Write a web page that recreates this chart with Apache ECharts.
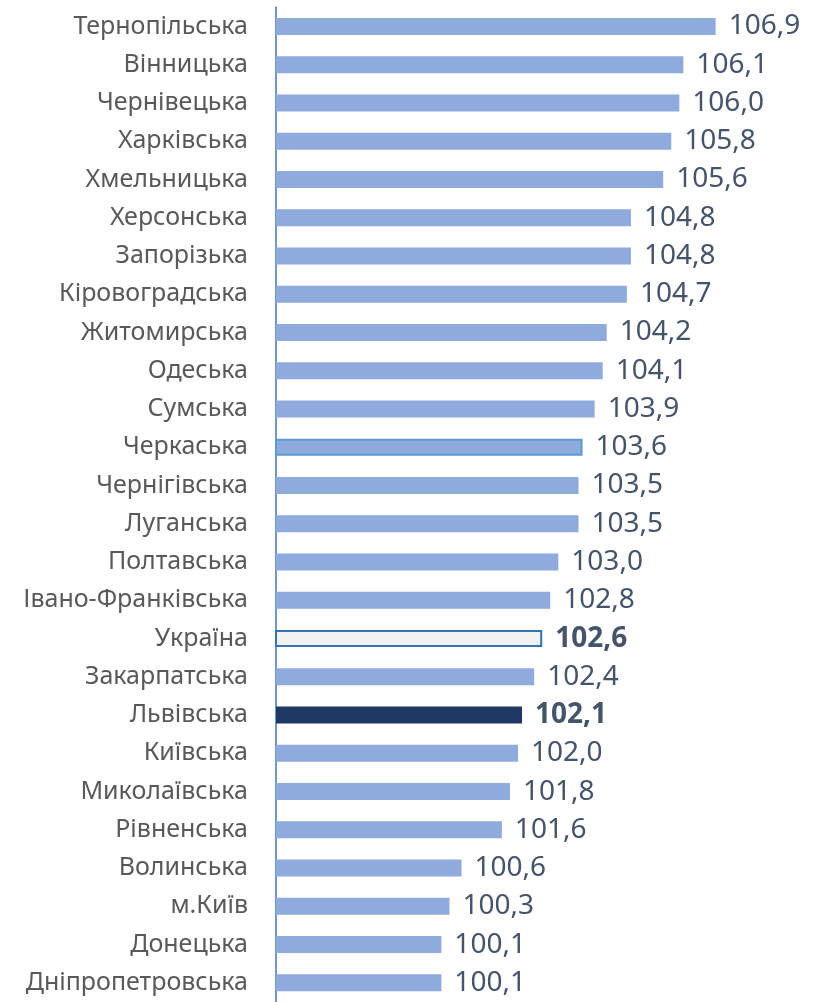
<!DOCTYPE html>
<html>
<head>
<meta charset="utf-8">
<script src="https://cdn.jsdelivr.net/npm/echarts@6/dist/echarts.min.js"></script>
<style>html,body{margin:0;padding:0;background:#fff}#c{width:818px;height:1002px}</style>
</head>
<body>
<div id="c"></div>
<script>
const categories = ["Тернопільська","Вінницька","Чернівецька","Харківська","Хмельницька","Херсонська","Запорізька","Кіровоградська","Житомирська","Одеська","Сумська","Черкаська","Чернігівська","Луганська","Полтавська","Івано-Франківська","Україна","Закарпатська","Львівська","Київська","Миколаївська","Рівненська","Волинська","м.Київ","Донецька","Дніпропетровська"];
const values = [106.9,106.1,106.0,105.8,105.6,104.8,104.8,104.7,104.2,104.1,103.9,103.6,103.5,103.5,103.0,102.8,102.6,102.4,102.1,102.0,101.8,101.6,100.6,100.3,100.1,100.1];

const special = {
  "Черкаська": {itemStyle:{color:"#8FAADC",borderColor:"#5B9BD5",borderWidth:2}},
  "Україна": {itemStyle:{color:"#F2F2F2",borderColor:"#2E75B6",borderWidth:2}, label:{fontWeight:"bold"}},
  "Львівська": {itemStyle:{color:"#203864"}, label:{fontWeight:"bold"}}
};
const data = values.map((v,i)=>{
  const o = {value:v};
  const s = special[categories[i]];
  if (s) Object.assign(o, s);
  return o;
});

const chart = echarts.init(document.getElementById('c'));
chart.setOption({
  animation:false,
  grid:{left:276, right:58, top:7.3, height:997},
  xAxis:{type:'value', min:96, max:108, show:false, splitLine:{show:false}},
  yAxis:{type:'category', data:categories, inverse:true,
    axisLine:{lineStyle:{color:'#4472C4', width:1.5}},
    axisTick:{show:false},
    axisLabel:{color:'#595959', fontSize:25, fontFamily:'Noto Sans', margin:28}},
  series:[{type:'bar', data:data, barWidth:17,
    itemStyle:{color:'#8FAADC'},
    label:{show:true, position:'right', distance:13, color:'#44546A', fontSize:28, fontFamily:'Noto Sans',
      formatter:p=>p.value.toFixed(1).replace('.',',')}}]
});
</script>
</body>
</html>
